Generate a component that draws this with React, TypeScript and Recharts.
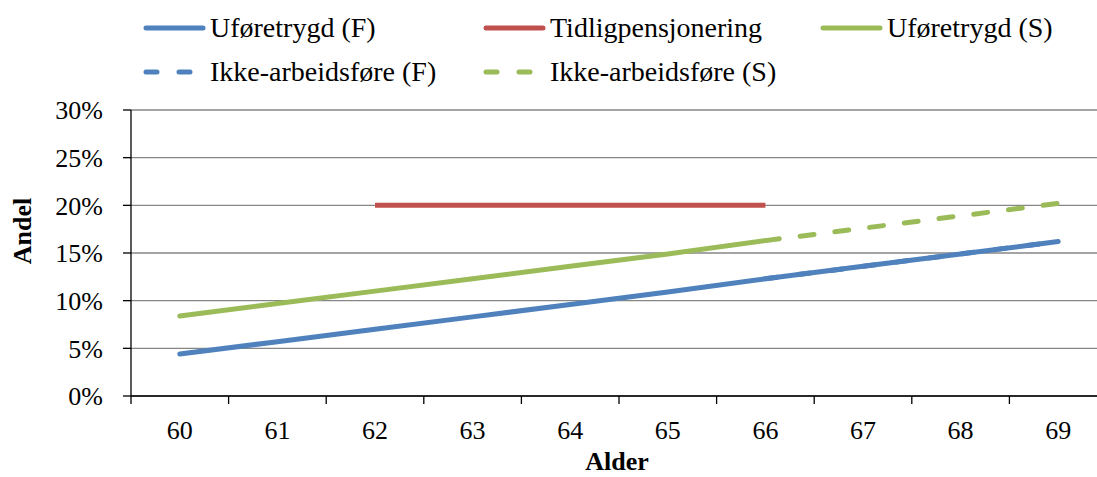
import React from "react";
import {
  LineChart,
  Line,
  XAxis,
  YAxis,
  CartesianGrid,
  Legend,
} from "recharts";

const ages = [60, 61, 62, 63, 64, 65, 66, 67, 68, 69];
const uforeF = [4.4, 5.7, 7.0, 8.3, 9.6, 10.9, 12.3, 13.6, 14.9, 16.2];
const ikkeArbF = [null, null, null, null, null, null, 12.3, 13.6, 14.9, 16.2];
const tidligpensjon = [null, null, 20, 20, 20, 20, 20, null, null, null];
const uforeS = [8.4, 9.7, 11.0, 12.3, 13.6, 14.9, 16.3, null, null, null];
const ikkeArbS = [null, null, null, null, null, null, 16.3, 17.6, 18.9, 20.2];
const yTicks = [0, 5, 10, 15, 20, 25, 30];

const BLUE = "#4F81BD";
const RED = "#C0504D";
const GREEN = "#9BBB59";
const FONT = "Times New Roman, Liberation Serif, DejaVu Serif, serif";

const data = ages.map((age, i) => ({
  age,
  uforeF: uforeF[i],
  ikkeArbF: ikkeArbF[i],
  tidlig: tidligpensjon[i],
  uforeS: uforeS[i],
  ikkeArbS: ikkeArbS[i],
}));

const legendItems = [
  { label: "Uføretrygd (F)", color: BLUE, dashed: false, left: 143, top: 28 },
  { label: "Tidligpensjonering", color: RED, dashed: false, left: 483, top: 28 },
  { label: "Uføretrygd (S)", color: GREEN, dashed: false, left: 820, top: 28 },
  { label: "Ikke-arbeidsføre (F)", color: BLUE, dashed: true, left: 143, top: 72 },
  { label: "Ikke-arbeidsføre (S)", color: GREEN, dashed: true, left: 483, top: 72 },
];

function ChartLegend() {
  return (
    <div style={{ position: "relative", width: 1097, height: 100 }}>
      {legendItems.map((it) => (
        <div
          key={it.label}
          style={{
            position: "absolute",
            left: it.left,
            top: it.top - 18,
            height: 36,
            display: "flex",
            alignItems: "center",
            whiteSpace: "nowrap",
          }}
        >
          <svg width={64} height={10} style={{ marginRight: 3 }}>
            <line
              x1={3}
              y1={5}
              x2={60}
              y2={5}
              stroke={it.color}
              strokeWidth={5}
              strokeLinecap="round"
              strokeDasharray={it.dashed ? "11 22" : undefined}
            />
          </svg>
          <span style={{ fontFamily: FONT, fontSize: 28, color: "#000" }}>{it.label}</span>
        </div>
      ))}
    </div>
  );
}

// category labels sit in the band centre, tick marks go on the band edges
function AgeTick(props: any) {
  const { x, y, payload, index, width, visibleTicksCount } = props;
  const half =
    payload && payload.offset > 0 ? payload.offset : width / visibleTicksCount / 2;
  return (
    <g>
      <line x1={x - half} y1={y} x2={x - half} y2={y + 8} stroke="#000" strokeWidth={1.3} />
      {index === visibleTicksCount - 1 && (
        <line x1={x + half} y1={y} x2={x + half} y2={y + 8} stroke="#000" strokeWidth={1.3} />
      )}
      <text x={x} y={y + 43} textAnchor="middle" fontFamily={FONT} fontSize={26} fill="#000">
        {payload.value}
      </text>
    </g>
  );
}

export default function App() {
  return (
    <div
      style={{
        position: "fixed",
        top: 0,
        left: 0,
        width: 1097,
        height: 477,
        overflow: "hidden",
        background: "#fff",
      }}
    >
      <LineChart
        width={1120}
        height={477}
        data={data}
        margin={{ top: 110, right: 13, bottom: 0, left: 0 }}
      >
        <CartesianGrid vertical={false} stroke="#868686" strokeWidth={1.3} />
        <XAxis
          dataKey="age"
          scale="band"
          height={81}
          tickLine={false}
          tickSize={0}
          tickMargin={0}
          axisLine={{ stroke: "#000", strokeWidth: 1.3 }}
          tick={<AgeTick />}
          interval={0}
          label={{
            content: () => (
              <text
                x={617}
                y={470}
                textAnchor="middle"
                fontFamily={FONT}
                fontSize={26}
                fontWeight="bold"
                fill="#000"
              >
                Alder
              </text>
            ),
          }}
        />
        <YAxis
          width={131}
          domain={[0, 30]}
          ticks={yTicks}
          interval={0}
          tickFormatter={(v) => `${v}%`}
          tickSize={8}
          tickMargin={20}
          tickLine={{ stroke: "#000", strokeWidth: 1.3 }}
          axisLine={{ stroke: "#000", strokeWidth: 1.3 }}
          tick={{ fontFamily: FONT, fontSize: 26, fill: "#000" }}
          label={{
            content: () => (
              <text
                x={31}
                y={231}
                transform="rotate(-90 31 231)"
                textAnchor="middle"
                fontFamily={FONT}
                fontSize={26}
                fontWeight="bold"
                fill="#000"
              >
                Andel
              </text>
            ),
          }}
        />
        <Legend
          layout="horizontal"
          verticalAlign="middle"
          align="center"
          wrapperStyle={{ top: 0, left: 0, width: 1097, height: 100 }}
          content={() => <ChartLegend />}
        />
        <Line
          dataKey="ikkeArbF"
          stroke={BLUE}
          strokeWidth={5}
          strokeDasharray="12 21"
          strokeLinecap="round"
          dot={false}
          isAnimationActive={false}
        />
        <Line
          dataKey="uforeF"
          stroke={BLUE}
          strokeWidth={5}
          strokeLinecap="round"
          dot={false}
          isAnimationActive={false}
        />
        <Line
          dataKey="tidlig"
          stroke={RED}
          strokeWidth={5}
          dot={false}
          isAnimationActive={false}
        />
        <Line
          dataKey="uforeS"
          stroke={GREEN}
          strokeWidth={5}
          strokeLinecap="round"
          dot={false}
          isAnimationActive={false}
        />
        <Line
          dataKey="ikkeArbS"
          stroke={GREEN}
          strokeWidth={5}
          strokeDasharray="14 21"
          strokeLinecap="round"
          dot={false}
          isAnimationActive={false}
        />
      </LineChart>
    </div>
  );
}
